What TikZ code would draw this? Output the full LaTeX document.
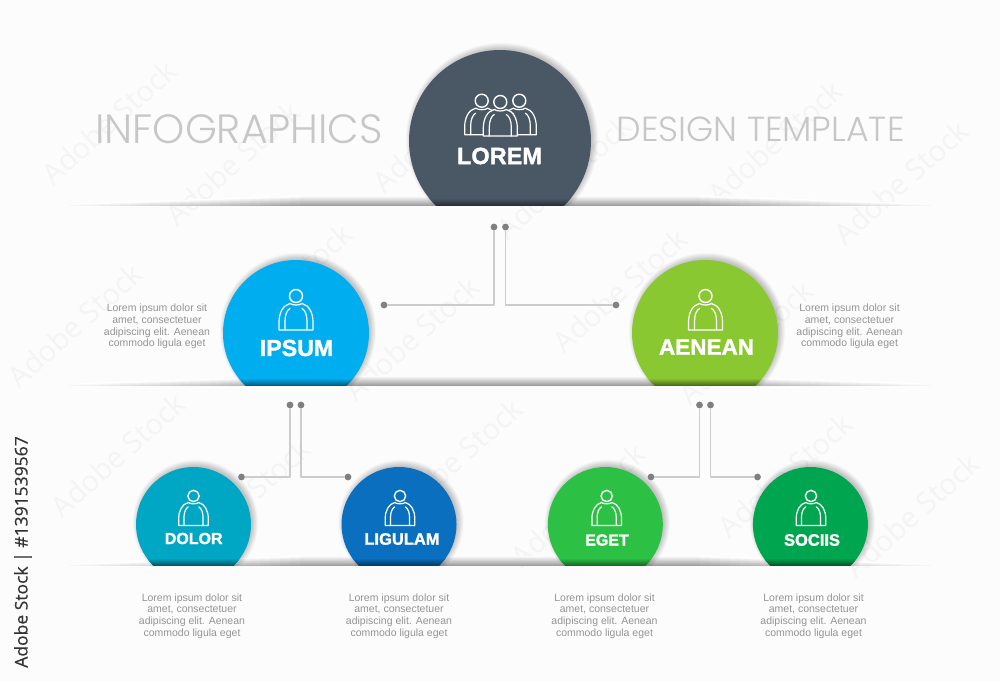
\documentclass[tikz,border=0pt]{standalone}
\usepackage{fontspec}
\setmainfont{Liberation Sans}
\newfontfamily\thinfont{Poppins Light}
\newfontfamily\stampfont{Open Sans}[FakeBold=0.4]
\newfontfamily\markfont{Open Sans}
\newfontfamily\labelfont{Liberation Sans Bold}[FakeBold=1.6]
\definecolor{paper}{HTML}{FCFCFC}
\definecolor{markgrey}{HTML}{F4F4F4}
\definecolor{slate}{HTML}{4A5866}
\definecolor{sky}{HTML}{00AEEF}
\definecolor{leaf}{HTML}{8AC832}
\definecolor{teal}{HTML}{00A7C4}
\definecolor{royal}{HTML}{0A6FBF}
\definecolor{grass}{HTML}{2CC144}
\definecolor{pine}{HTML}{00A64F}
\tikzset{
	lorem/.style={align=center, font=\fontsize{10.5}{11.7}\selectfont, text=black!42, inner sep=0pt},
	dotnode/.style={circle, fill=black!50, minimum size=6.8pt, inner sep=0pt},
	link/.style={draw=black!20, line width=1.2pt},
	watermark/.style={rotate=42, text=markgrey, font=\fontsize{29}{29}\markfont},
	pics/person/.style={code={
		\begin{scope}[draw=white, line width=1.2pt]
			\draw[fill=#1] (-17,34) -- (-17,26) .. controls (-17,17) and (-13,9) .. (-6,7.5) .. controls (-3,9.5) and (3,9.5) .. (6,7.5) .. controls (13,9) and (17,17) .. (17,26) -- (17,34) -- cycle;
			\draw (-11,34) -- (-11,25) .. controls (-11,19) and (-9,14) .. (-6,12.5) (11,34) -- (11,25) .. controls (11,19) and (9,14) .. (6,12.5);
			\draw[fill=#1, line width=1.4pt] (0,0) circle (6.5);
		\end{scope}
	}}
}
\begin{document}
\begin{tikzpicture}[x=1pt, y=-1pt, line join=round, line cap=round]
	\useasboundingbox (0,0) rectangle (1000,681);
	\fill[paper] (0,0) rectangle (1000,681);
	% watermark
	\foreach \mx/\my [count=\i] in {109/122, 233/163, 440/130, 285/285, 75/325, 412/338, 775/142, 901/182, 564/177, 620/290, 746/342, 118/455, 243/500, 455/460, 578/505, 785/475, 912/515}{
		\node[watermark] (mark\i) at (\mx,\my) {Adobe Stock};
	}
	% shelves
	\foreach \base in {205,385,565}{
		\foreach \sx in {70,80,...,920}{
			\pgfmathsetmacro\t{min(1,min(\sx-70,920-\sx)/230)}
			\pgfmathtruncatemacro\g{4+34*\t}
			\shade[top color=paper, bottom color=black!\g] (\sx,\base-1-8*\t) rectangle (\sx+10.3,\base);
		}
	}
	% circles
	\foreach \nm/\cx/\cy/\rr/\base/\col/\fsize/\lab/\labx/\laby in {
		lorem/500/141/91/205/slate/23.5/LOREM/499.5/156,
		ipsum/296/333/73/385/sky/23.2/IPSUM/296.5/348,
		aenean/705/333/73/385/leaf/22.5/AENEAN/706.5/347,
		dolor/193.5/524.5/57.5/565/teal/16/DOLOR/193.7/538.5,
		ligulam/399/524.5/57.5/565/royal/16.5/LIGULAM/402/539,
		eget/605.3/524.5/57.5/565/grass/16/EGET/607/540,
		sociis/810.4/524.5/57.5/565/pine/16.5/SOCIIS/812/540}{
		\begin{scope}
			\clip (0,0) rectangle (1000,\base);
			\foreach \i in {1,...,12}{
				\fill[black, opacity=0.018] (\cx+2,\cy-2) circle (\rr-2+\i*0.6);
			}
			\node[circle, fill=\col, minimum size=2*\rr pt, inner sep=0pt] (\nm) at (\cx,\cy) {};
			\clip (\cx,\cy) circle (\rr);
			\shade[top color=\col, bottom color=\col!55!black] (\cx-\rr,\base-7) rectangle (\cx+\rr,\base);
		\end{scope}
		\node[text=white, font=\fontsize{\fsize}{\fsize}\labelfont] (\nm label) at (\labx,\laby) {\lab};
	}
	% icons
	\pic at (481.7,100.7) {person=slate};
	\pic at (519.3,100.7) {person=slate};
	\pic at (500.3,102) {person=slate};
	\pic at (296,296) {person=sky};
	\pic at (705.5,296) {person=leaf};
	\pic[scale=0.87] at (193.5,496) {person=teal};
	\pic[scale=0.87] at (400,496) {person=royal};
	\pic[scale=0.87] at (606.7,496) {person=grass};
	\pic[scale=0.87] at (811,496) {person=pine};
	% connectors
	\node[dotnode] (a1) at (494,227) {};
	\node[dotnode] (a2) at (505.5,227) {};
	\node[dotnode] (a3) at (384,305) {};
	\node[dotnode] (a4) at (616,305) {};
	\draw[link] (a1) |- (a3);
	\draw[link] (a2) |- (a4);
	\node[dotnode] (b1) at (290,405) {};
	\node[dotnode] (b2) at (301,405) {};
	\node[dotnode] (b3) at (241.5,477) {};
	\node[dotnode] (b4) at (348,477) {};
	\draw[link] (b1) |- (b3);
	\draw[link] (b2) |- (b4);
	\node[dotnode] (c1) at (699.5,405) {};
	\node[dotnode] (c2) at (710.5,405) {};
	\node[dotnode] (c3) at (651,477) {};
	\node[dotnode] (c4) at (757.5,477) {};
	\draw[link] (c1) |- (c3);
	\draw[link] (c2) |- (c4);
	% texts
	\node[text=black!22, font=\fontsize{40.9}{41}\thinfont] (title) at (239,129) {INFOGRAPHICS};
	\node[text=black!22, font=\fontsize{34.8}{35}\thinfont] (subtitle) at (760.5,129.5) {DESIGN TEMPLATE};
	\foreach \nm/\tx/\ty in {t1/157/326.5, t2/849.5/326.5, t3/192/616, t4/399/616, t5/604.5/616, t6/813.5/616}{
		\node[lorem] (\nm) at (\tx,\ty) {\frenchspacing Lorem ipsum dolor sit\\amet, consectetuer\\adipiscing elit. Aenean\\commodo ligula eget};
	}
	\node[rotate=90, text=black!80, font=\fontsize{17.5}{17.5}\stampfont] (stamp) at (23,552) {Adobe Stock | \#1391539567};
\end{tikzpicture}
\end{document}
